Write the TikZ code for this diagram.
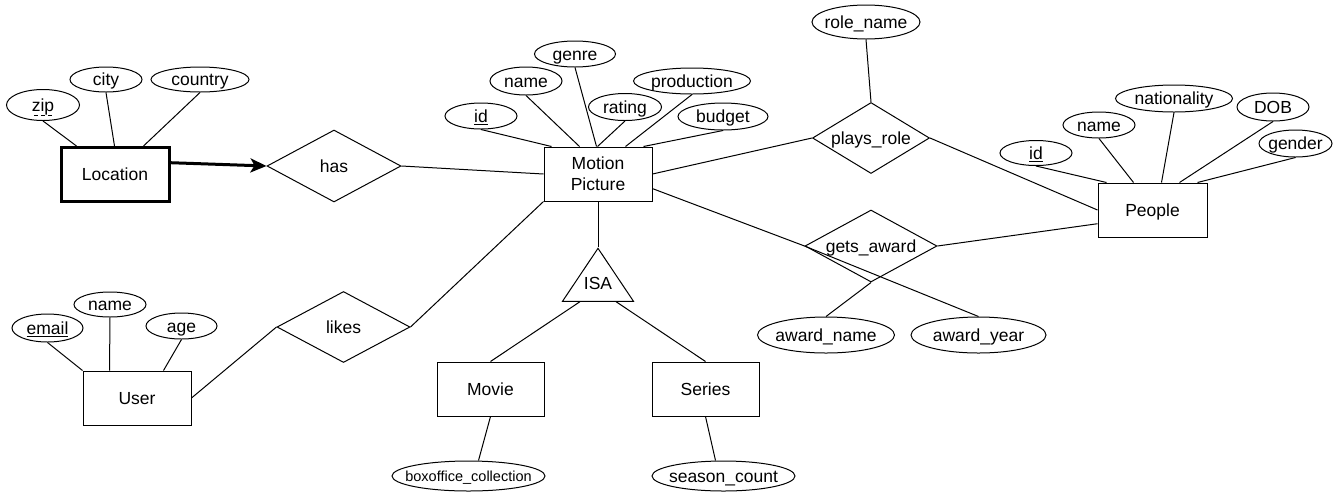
\documentclass[tikz,border=0pt]{standalone}
\usepackage{fontspec}
\setmainfont{Liberation Sans}
\usetikzlibrary{arrows.meta,calc,shapes.geometric}
\tikzset{
    >=Stealth,
    er/.style={
        x=1pt,y=-1pt,
        every node/.append style={font=\fontsize{17.5}{21}\selectfont,text height=12.5pt,text depth=0pt},
        squeeze/.append style={execute at begin node={\hbox to 0pt\bgroup\hss},execute at end node={\hss\egroup}},
        attr/.append style={draw,ellipse,inner sep=0pt,minimum width=72,minimum height=26,squeeze},
        entity/.append style={draw,rectangle,align=center,minimum width=108,minimum height=54},
        rel/.append style={draw,diamond,inner sep=0pt,squeeze},
        isa/.append style={draw,isosceles triangle,isosceles triangle stretches,shape border rotate=90,inner sep=0pt,minimum width=71,minimum height=53},
        weak/.append style={line width=3pt},
        once/.append style={-{Stealth[length=16pt,width=14pt,inset=4pt]},line width=3pt},
        small/.append style={font=\fontsize{14.5}{17}\selectfont,text height=10.4pt}
    }
}
\newsavebox{\pkeybox}
\newcommand{\pkey}[1]{\sbox{\pkeybox}{#1}\rlap{\raisebox{-5pt}{\hbox to \wd\pkeybox{\cleaders\hbox to 7pt{\hss\rule{4.5pt}{1pt}\hss}\hfill}}}\usebox{\pkeybox}}

\begin{document}
\begin{tikzpicture}[er,line width=1pt]
    \useasboundingbox (0,0) rectangle (1338,491);

    % Location
    \node[entity,weak] (loc) at (115,174.5) {Location};
    \node[attr,minimum width=73,minimum height=31] (zip) at (43,105) {\pkey{zip}};
    \node[attr,minimum height=25] (city) at (106,79.5) {city};
    \node[attr,minimum width=98,minimum height=25] (country) at (200,79.5) {country};
    \draw (zip.south) -- ($(loc.north west)+(17,0)$);
    \draw (city.south) -- ($(loc.north west)+(55,0)$);
    \draw (country.south) -- ($(loc.north west)+(84,0)$);

    \node[rel,minimum width=134,minimum height=72] (has) at (334,166) {has};
    \draw[once] (loc.12) -- (has.west);

    % Motion Picture
    \node[entity,text height=33.5pt] (mp) at (598,174) {Motion\\Picture};
    \draw (has.east) -- (mp.west);
    \node[attr] (mpid) at (481,116) {\underline{id}};
    \node[attr,minimum height=28] (mpname) at (526,81) {name};
    \node[attr,minimum width=81] (genre) at (575,54) {genre};
    \node[attr,minimum width=73,minimum height=27] (rating) at (625,107) {rating};
    \node[attr,minimum width=117] (prod) at (692,81) {production};
    \node[attr,minimum width=90,minimum height=27] (budget) at (723,116.5) {budget};
    \draw (mpid.south) -- ($(mp.north west)+(8,0)$);
    \draw (mpname.south) -- ($(mp.north west)+(36,0)$);
    \draw (genre.south) -- ($(mp.north west)+(53,0)$);
    \draw (rating.south) -- ($(mp.north west)+(54,0)$);
    \draw (prod.south) -- ($(mp.north west)+(82,0)$);
    \draw (budget.south) -- ($(mp.north west)+(100,0)$);

    % ISA
    \node[isa,anchor=apex] (isa) at (598,247) {\raisebox{5pt}{ISA}};
    \draw (mp.south) -- (isa.apex);
    \node[entity,minimum width=107] (movie) at (490.5,389) {Movie};
    \node[entity,minimum width=107] (series) at (705.5,389) {Series};
    \draw ($(isa.left corner)!0.25!(isa.right corner)$) -- (movie.north);
    \draw ($(isa.left corner)!0.75!(isa.right corner)$) -- (series.north);
    \node[attr,small,minimum width=153,minimum height=30] (box) at (468.5,476) {boxoffice\_collection};
    \node[attr,minimum width=143,minimum height=30] (season) at (723.5,476) {season\_count};
    \draw (movie.south) -- ($(box.north)+(10,0)$);
    \draw (series.south) -- ($(season.north)+(-8,0)$);

    % People
    \node[entity,minimum width=109] (people) at (1152.5,210) {People};
    \node[attr,minimum height=25] (pid) at (1036,153) {\underline{id}};
    \node[attr] (pname) at (1099,125) {name};
    \node[attr,minimum width=117,minimum height=27] (nat) at (1174,98.5) {nationality};
    \node[attr,minimum height=28] (dob) at (1273,107) {DOB};
    \node[attr,minimum width=73,minimum height=27] (gender) at (1295.5,143.5) {gender};
    \draw (pid.south) -- ($(people.north west)+(9,0)$);
    \draw (pname.south) -- ($(people.north west)+(36,0)$);
    \draw (nat.south) -- ($(people.north west)+(64,0)$);
    \draw (dob.south) -- ($(people.north west)+(82,0)$);
    \draw (gender.south) -- ($(people.north west)+(100,0)$);

    \node[rel,minimum width=117,minimum height=71] (plays) at (871,138) {plays\_role};
    \node[attr,minimum width=108,minimum height=34] (role) at (866,22) {role\_name};
    \draw (mp.east) -- (plays.west);
    \draw (plays.east) -- (people.west);
    \draw (role.south) -- (plays.north);

    \node[rel,minimum width=132,minimum height=72] (gets) at (871,246) {gets\_award};
    \node[attr,minimum width=137,minimum height=36] (awname) at (826,335) {award\_name};
    \node[attr,minimum width=135,minimum height=36] (awyear) at (978.5,335) {award\_year};
    \draw (mp.-15) -- (gets.west) -- (awyear.north);
    \draw (gets.south) -- (awname.north);
    \draw (gets.east) -- (people.194);

    % User
    \node[entity] (user) at (137,398) {User};
    \node[attr,minimum width=71,minimum height=28] (email) at (47.5,328) {\underline{email}};
    \node[attr,minimum height=25] (uname) at (110,304.5) {name};
    \node[attr,minimum width=71] (age) at (181.5,326) {age};
    \draw (email.south) -- (user.north west);
    \draw (uname.south) -- ($(user.north west)+(27,0)$);
    \draw (age.south) -- ($(user.north west)+(81,0)$);

    \node[rel,minimum width=133,minimum height=71] (likes) at (343.5,327) {likes};
    \draw (user.east) -- (likes.west);
    \draw (likes.east) -- (mp.south west);
\end{tikzpicture}
\end{document}
